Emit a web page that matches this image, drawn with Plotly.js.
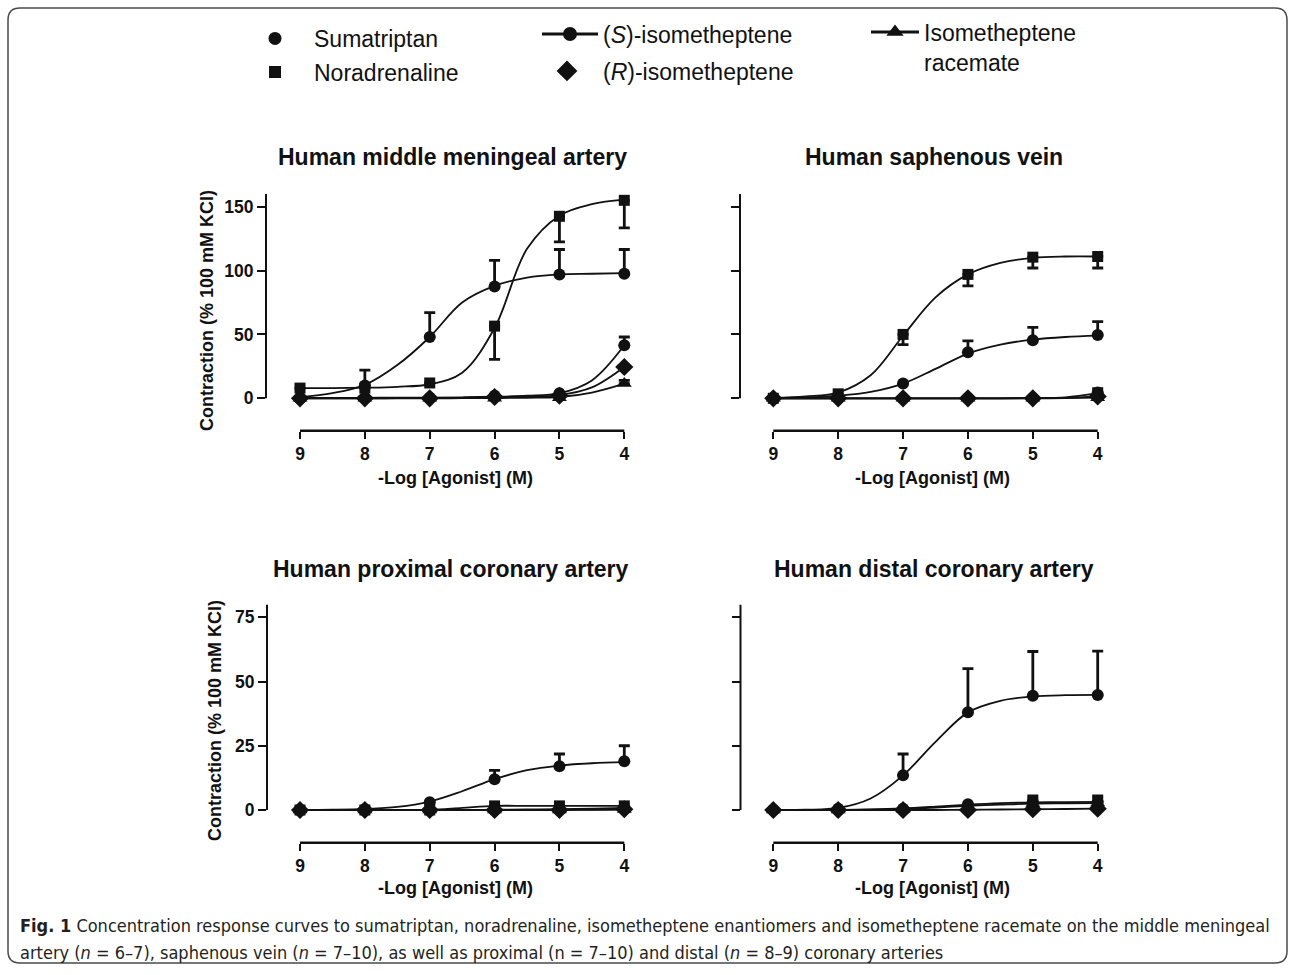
<!DOCTYPE html>
<html>
<head>
<meta charset="utf-8">
<script src="https://cdn.plot.ly/plotly-3.0.1.min.js"></script>
<style>
html,body{margin:0;padding:0;background:#fff;}
#chart{width:1295px;height:975px;}
</style>
</head>
<body>
<div id="chart"></div>
<script>
// ---------------- DATA ----------------
const doses = [9, 8, 7, 6, 5, 4];                       // -log [agonist] (M)
const curveDoses = [9, 8.5, 8, 7.5, 7, 6.5, 6, 5.5, 5, 4.5, 4];
const xTickLabels = ['9', '8', '7', '6', '5', '4'];
const seriesNames = ['Sumatriptan', 'Noradrenaline', '(<i>S</i>)-isometheptene', '(<i>R</i>)-isometheptene', 'Isometheptene<br>racemate'];
const panelTitles = ['Human middle meningeal artery', 'Human saphenous vein', 'Human proximal coronary artery', 'Human distal coronary artery'];
const xTitle = '-Log [Agonist] (M)';
const yTitle = 'Contraction (% 100 mM KCl)';
const yTicksTop = [0, 50, 100, 150];
const yTicksBottom = [0, 25, 50, 75];

// Middle meningeal artery
const mmaSuma = [0, 10, 48, 87.5, 97, 97.5];
const mmaSumaSemUp = [0, 12, 19, 20.5, 19.5, 19];
const mmaSumaFit = [1, 4, 10.5, 26, 48, 75, 88, 94.5, 97, 97.5, 98];
const mmaNa = [8, 8, 12, 56.5, 142.5, 155];
const mmaNaSemDown = [0, 0, 0, 26, 20, 21.5];
const mmaNaFit = [8, 8, 8.3, 9, 11, 20, 55, 117, 143, 152, 155.5];
const mmaS = [0, 0, 0.5, 2, 4, 41.5];
const mmaSSemUp = [0, 0, 0, 0, 0, 6.5];
const mmaSFit = [0.3, 0.3, 0.4, 0.5, 0.6, 0.8, 1.2, 2, 4, 14, 41.5];
const mmaR = [0, 0, 0, 1, 2, 24.5];
const mmaRFit = [0, 0, 0, 0.1, 0.2, 0.4, 0.7, 1.2, 2.5, 8.5, 24.5];
const mmaRac = [0, 0, 0, 0, 0.5, 11.5];
const mmaRacSemUp = [0, 0, 0, 0, 0, 2.5];
const mmaRacFit = [0, 0, 0, 0, 0, 0.1, 0.2, 0.4, 1, 4.5, 11.5];

// Saphenous vein
const svSuma = [0, 1, 11.5, 36, 45.5, 49.5];
const svSumaSemUp = [0, 0, 0, 9, 10, 10.5];
const svSumaFit = [0.2, 0.6, 2, 5, 11.5, 23, 35, 42, 46, 48, 49];
const svNa = [0, 3.5, 50, 97, 110.5, 111];
const svNaSemDown = [0, 0, 8, 9, 8.5, 9];
const svNaFit = [0.3, 1.5, 4.5, 18, 49, 79, 97, 106, 110, 111, 111];
const svS = [0, 0, 0, 0, 0, 4.5];
const svSSemUp = [0, 0, 0, 0, 0, 3];
const svSFit = [0, 0, 0, 0, 0, 0, 0, 0, 0.2, 0.8, 4];
const svR = [0, 0, 0, 0, 0, 1.5];
const svRFit = [0, 0, 0, 0, 0, 0, 0, 0, 0.1, 0.4, 1.5];
const svRac = [0, 0, 0, 0, 0, 0.5];
const svRacFit = [0, 0, 0, 0, 0, 0, 0, 0, 0, 0.1, 0.5];

// Proximal coronary artery
const pcSuma = [0, 0.3, 3, 12, 17, 19];
const pcSumaSemUp = [0, 0, 0, 3.4, 4.8, 6];
const pcSumaFit = [0, 0.1, 0.4, 1.2, 3.3, 7.3, 12, 15.5, 17.3, 18.2, 18.6];
const pcNa = [0, 0, 0, 1.6, 1.6, 1.6];
const pcNaFit = [0, 0, 0, 0, 0, 0.8, 1.6, 1.6, 1.6, 1.6, 1.6];
const pcS = [0, 0, 0, 0, 0.3, 0.8];
const pcSFit = [0, 0, 0, 0, 0, 0, 0.1, 0.2, 0.3, 0.5, 0.8];
const pcR = [0, 0, 0, 0, 0, 0.3];
const pcRFit = [0, 0, 0, 0, 0, 0, 0, 0, 0.1, 0.2, 0.3];
const pcRac = [0, 0, 0, 0, 0, 0.2];
const pcRacFit = [0, 0, 0, 0, 0, 0, 0, 0, 0, 0.1, 0.2];

// Distal coronary artery
const dcSuma = [0, 0.5, 13.5, 38, 44.5, 44.8];
const dcSumaSemUp = [0, 0, 8.3, 17, 17.2, 17];
const dcSumaFit = [0, 0.1, 0.8, 4.5, 13.5, 26.5, 38, 42.5, 44.2, 44.7, 44.8];
const dcS = [0, 0, 0.5, 2.2, 3.2, 3.2];
const dcSSemUp = [0, 0, 0, 0, 2.3, 2.3];
const dcSFit = [0, 0, 0.05, 0.2, 0.6, 1.3, 2.1, 2.7, 3.0, 3.1, 3.2];
const dcR = [0, 0, 0, 0, 0.3, 0.5];
const dcRFit = [0, 0, 0, 0, 0, 0, 0.1, 0.2, 0.3, 0.4, 0.5];
const dcRac = [0, 0, 0.3, 1.5, 2.5, 2.7];
const dcRacSemUp = [0, 0, 0, 0, 2, 2];
const dcRacFit = [0, 0, 0.03, 0.1, 0.4, 0.9, 1.6, 2.1, 2.5, 2.6, 2.7];

const captionLine1 = '<b>Fig. 1</b> Concentration response curves to sumatriptan, noradrenaline, isometheptene enantiomers and isometheptene racemate on the middle meningeal';
const captionLine2 = 'artery (<i>n</i> = 6–7), saphenous vein (<i>n</i> = 7–10), as well as proximal (n = 7–10) and distal (<i>n</i> = 8–9) coronary arteries';

// ---------------- LAYOUT HELPERS ----------------
const W = 1295, H = 975;
const FONT = 'Liberation Sans, Arial, Helvetica, sans-serif';
const INK = '#111111';
const px = x => x / W;
const py = y => 1 - y / H;

const panels = [
  {id: '',  L: 266,   R: 640,  B: 430.7, x9: 300,   x4: 624.3,  y0: 398.3, yunit: 1.2773, ytop: 160, ticks: yTicksTop,    labels: true,  tx: 452, ty: 157, xtx: 455, xty: 478, ytx: 207, yty: 311},
  {id: '2', L: 740,   R: 1113, B: 430.7, x9: 773.3, x4: 1097.7, y0: 398.3, yunit: 1.2773, ytop: 160, ticks: yTicksTop,    labels: false, tx: 934, ty: 157, xtx: 932, xty: 478},
  {id: '3', L: 267,   R: 640,  B: 842.7, x9: 300,   x4: 624.3,  y0: 810,   yunit: 2.5693, ytop: 80,  ticks: yTicksBottom, labels: true,  tx: 451, ty: 569, xtx: 455, xty: 888, ytx: 215, yty: 721},
  {id: '4', L: 740.5, R: 1113, B: 842.7, x9: 773.3, x4: 1097.7, y0: 810,   yunit: 2.5693, ytop: 80,  ticks: yTicksBottom, labels: false, tx: 934, ty: 569, xtx: 932, xty: 888}
];

const layout = {
  width: W, height: H,
  margin: {l: 0, r: 0, t: 0, b: 0},
  paper_bgcolor: '#ffffff', plot_bgcolor: 'rgba(0,0,0,0)',
  font: {family: FONT, color: INK},
  shapes: [], annotations: [],
  hovermode: false
};

panels.forEach((p, i) => {
  const xunit = (p.x4 - p.x9) / 5;
  const xL = 9 + (p.x9 - p.L) / xunit;
  const xR = 4 - (p.R - p.x4) / xunit;
  const T = p.y0 - p.ytop * p.yunit;
  const yB = -(p.B - p.y0) / p.yunit;
  layout['xaxis' + p.id] = {
    domain: [px(p.L), px(p.R)], range: [xL, xR], anchor: 'y' + p.id,
    tickvals: doses, ticktext: xTickLabels, ticks: 'outside', ticklen: 7, tickwidth: 2, tickcolor: INK,
    showline: false, showgrid: false, zeroline: false, fixedrange: true,
    tickfont: {family: FONT, size: 17.5, weight: 'bold', color: INK}
  };
  layout['yaxis' + p.id] = {
    domain: [py(p.B), py(T)], range: [yB, p.ytop], anchor: 'x' + p.id,
    tickvals: p.ticks, ticktext: p.ticks.map(String), ticks: 'outside', ticklen: 8, tickwidth: 2, tickcolor: INK,
    showticklabels: p.labels, showline: false, showgrid: false, zeroline: false, fixedrange: true,
    tickfont: {family: FONT, size: 17.5, weight: 'bold', color: INK}
  };
  // axis lines (GraphPad-style offset axes)
  layout.shapes.push({type: 'line', xref: 'x' + p.id + ' domain', yref: 'y' + p.id, x0: 0, x1: 0, y0: 0, y1: p.ytop, line: {color: INK, width: 2}});
  layout.shapes.push({type: 'line', xref: 'x' + p.id, yref: 'y' + p.id + ' domain', x0: 9, x1: 4, y0: 0, y1: 0, line: {color: INK, width: 2.5}});
  // titles
  layout.annotations.push({text: panelTitles[i], xref: 'paper', yref: 'paper', x: px(p.tx), y: py(p.ty), xanchor: 'center', yanchor: 'middle', showarrow: false, font: {family: FONT, size: 23, weight: 'bold', color: INK}});
  layout.annotations.push({text: xTitle, xref: 'paper', yref: 'paper', x: px(p.xtx), y: py(p.xty), xanchor: 'center', yanchor: 'middle', showarrow: false, font: {family: FONT, size: 18, weight: 'bold', color: INK}});
  if (p.ytx) {
    layout.annotations.push({text: yTitle, textangle: -90, xref: 'paper', yref: 'paper', x: px(p.ytx), y: py(p.yty), xanchor: 'center', yanchor: 'middle', showarrow: false, font: {family: FONT, size: 18, weight: 'bold', color: INK}});
  }
});

// caption
const CAPFONT = 'Liberation Sans Narrow, DejaVu Sans Condensed, Arial Narrow, sans-serif';
layout.annotations.push({text: captionLine1, xref: 'paper', yref: 'paper', x: px(18), y: py(925), xanchor: 'left', yanchor: 'middle', showarrow: false, font: {family: CAPFONT, size: 18, color: '#231f20'}});
layout.annotations.push({text: captionLine2, xref: 'paper', yref: 'paper', x: px(18), y: py(952), xanchor: 'left', yanchor: 'middle', showarrow: false, font: {family: CAPFONT, size: 18, color: '#231f20'}});

// rounded frame
(function () {
  const x0 = 8, y0 = 8, x1 = 1287, y1 = 963, r = 12;
  const P = (x, y) => px(x).toFixed(5) + ',' + py(y).toFixed(5);
  const d = 'M' + P(x0 + r, y0) + ' L' + P(x1 - r, y0) + ' Q' + P(x1, y0) + ' ' + P(x1, y0 + r) +
            ' L' + P(x1, y1 - r) + ' Q' + P(x1, y1) + ' ' + P(x1 - r, y1) +
            ' L' + P(x0 + r, y1) + ' Q' + P(x0, y1) + ' ' + P(x0, y1 - r) +
            ' L' + P(x0, y0 + r) + ' Q' + P(x0, y0) + ' ' + P(x0 + r, y0) + ' Z';
  layout.shapes.push({type: 'path', xref: 'paper', yref: 'paper', path: d, line: {color: '#4a4a4a', width: 1.5}, layer: 'below'});
})();

// legends
const legBase = {bgcolor: 'rgba(0,0,0,0)', borderwidth: 0, xanchor: 'left', yanchor: 'middle', xref: 'paper', yref: 'paper', font: {family: FONT, size: 23, color: INK}, valign: 'top', tracegroupgap: 0};
layout.legend  = Object.assign({}, legBase, {x: px(236), y: py(38.5), itemwidth: 68});
layout.legend2 = Object.assign({}, legBase, {x: px(236), y: py(72), itemwidth: 68});
layout.legend3 = Object.assign({}, legBase, {x: px(537), y: py(34), itemwidth: 56});
layout.legend4 = Object.assign({}, legBase, {x: px(531), y: py(71), itemwidth: 62});
layout.legend5 = Object.assign({}, legBase, {x: px(866), y: py(47), itemwidth: 48});

// ---------------- TRACES ----------------
const traces = [];
function fit(p, y) {
  traces.push({x: curveDoses, y: y, xaxis: 'x' + p, yaxis: 'y' + p, mode: 'lines', line: {color: INK, width: 1.8, shape: 'spline', smoothing: 1}, showlegend: false, hoverinfo: 'skip'});
}
function pts(p, y, symbol, size, up, down) {
  const zeros = y.map(() => 0);
  traces.push({x: doses, y: y, xaxis: 'x' + p, yaxis: 'y' + p, mode: 'markers', cliponaxis: false,
    marker: {symbol: symbol, size: size, color: INK, line: {width: 0}},
    error_y: {type: 'data', symmetric: false, array: up || zeros, arrayminus: down || zeros, color: INK, thickness: 2.8, width: 5.5},
    showlegend: false, hoverinfo: 'skip'});
}
const SYM = {suma: ['circle', 12], na: ['square', 11], s: ['circle', 12], r: ['diamond', 14], rac: ['triangle-up', 13]};

// MMA
fit('', mmaSumaFit); fit('', mmaNaFit); fit('', mmaSFit); fit('', mmaRFit); fit('', mmaRacFit);
pts('', mmaSuma, ...SYM.suma, mmaSumaSemUp, null);
pts('', mmaNa, ...SYM.na, null, mmaNaSemDown);
pts('', mmaS, ...SYM.s, mmaSSemUp, null);
pts('', mmaR, ...SYM.r, null, null);
pts('', mmaRac, ...SYM.rac, mmaRacSemUp, null);
// SV
fit('2', svSumaFit); fit('2', svNaFit); fit('2', svSFit); fit('2', svRFit); fit('2', svRacFit);
pts('2', svSuma, ...SYM.suma, svSumaSemUp, null);
pts('2', svNa, ...SYM.na, null, svNaSemDown);
pts('2', svS, ...SYM.s, svSSemUp, null);
pts('2', svR, ...SYM.r, null, null);
pts('2', svRac, ...SYM.rac, null, null);
// PC
fit('3', pcSumaFit); fit('3', pcNaFit); fit('3', pcSFit); fit('3', pcRFit); fit('3', pcRacFit);
pts('3', pcSuma, ...SYM.suma, pcSumaSemUp, null);
pts('3', pcNa, ...SYM.na, null, null);
pts('3', pcS, ...SYM.s, null, null);
pts('3', pcR, ...SYM.r, null, null);
pts('3', pcRac, ...SYM.rac, null, null);
// DC
fit('4', dcSumaFit); fit('4', dcSFit); fit('4', dcRFit); fit('4', dcRacFit);
pts('4', dcSuma, ...SYM.suma, dcSumaSemUp, null);
pts('4', dcS, ...SYM.s, dcSSemUp, null);
pts('4', dcR, ...SYM.r, null, null);
pts('4', dcRac, ...SYM.rac, dcRacSemUp, null);

// legend entries
traces.push({x: [null], y: [null], mode: 'markers', name: seriesNames[0], legend: 'legend',  marker: {symbol: 'circle', size: 13, color: INK}});
traces.push({x: [null], y: [null], mode: 'markers', name: seriesNames[1], legend: 'legend2', marker: {symbol: 'square', size: 12, color: INK}});
traces.push({x: [null], y: [null], mode: 'lines+markers', name: seriesNames[2], legend: 'legend3', marker: {symbol: 'circle', size: 14, color: INK}, line: {color: INK, width: 3}});
traces.push({x: [null], y: [null], mode: 'markers', name: seriesNames[3], legend: 'legend4', marker: {symbol: 'diamond', size: 17, color: INK}});
traces.push({x: [null], y: [null], mode: 'lines+markers', name: seriesNames[4], legend: 'legend5', marker: {symbol: 'triangle-up', size: 15, color: INK}, line: {color: INK, width: 3}});

Plotly.newPlot('chart', traces, layout, {staticPlot: true, displayModeBar: false});
</script>
</body>
</html>
